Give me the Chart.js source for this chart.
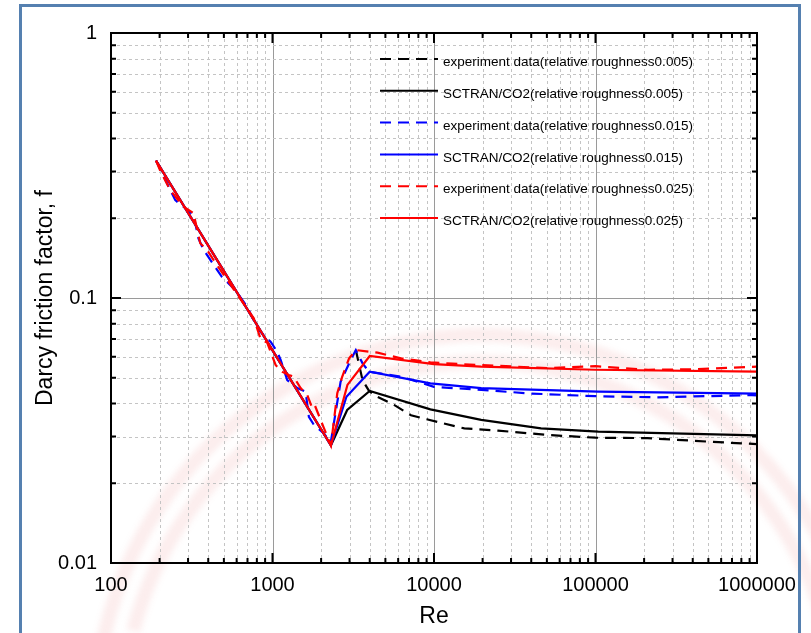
<!DOCTYPE html>
<html>
<head>
<meta charset="utf-8">
<script src="https://cdn.jsdelivr.net/npm/chart.js@4.4.1/dist/chart.umd.min.js"></script>
<style>
  html, body { margin: 0; padding: 0; background: #fff; }
  #wrap { position: relative; width: 811px; height: 633px; overflow: hidden; }
  #frame { position: absolute; left: 19px; top: 4px; width: 776px; height: 700px;
           border: 3px solid #5580b0; pointer-events: none; }
</style>
</head>
<body>
<div id="wrap">
  <canvas id="chart" width="811" height="633"></canvas>
  <div id="frame"></div>
</div>
<script>
"use strict";

// legend labels, in legend order
const seriesLabels = [
  'experiment data(relative roughness0.005)',
  'SCTRAN/CO2(relative roughness0.005)',
  'experiment data(relative roughness0.015)',
  'SCTRAN/CO2(relative roughness0.015)',
  'experiment data(relative roughness0.025)',
  'SCTRAN/CO2(relative roughness0.025)',
];

// roughness 0.005
const exp005Re = [3280, 3610, 3960, 4470, 5660, 7200, 9140, 15400, 24900, 51000, 100000, 210000, 500000, 1000000];
const exp005F  = [0.0636, 0.049, 0.0446, 0.0424, 0.0395, 0.0361, 0.0348, 0.0322, 0.0316, 0.0304, 0.0297, 0.0296, 0.0287, 0.0281];
const sct005Re = [190, 2300, 2900, 4000, 9500, 19600, 46000, 104000, 1000000];
const sct005F  = [0.33, 0.0278, 0.0378, 0.0446, 0.038, 0.0347, 0.0322, 0.0313, 0.0303];

// roughness 0.015
const exp015Re = [190, 250, 281, 324, 348, 374, 487, 589, 696, 822, 973, 1070, 1123, 1234, 1423, 1603, 1680, 1805, 2085, 2290,
                  2640, 3050, 3280, 3610, 3960, 6240, 10000, 19600, 40000, 100000, 240000, 930000, 1000000];
const exp015F  = [0.33, 0.234, 0.221, 0.206, 0.168, 0.152, 0.120, 0.107, 0.0927, 0.0757, 0.0684, 0.0627, 0.0584, 0.049, 0.0457, 0.0443, 0.0356, 0.0332, 0.0308, 0.0283,
                  0.0483, 0.0584, 0.0636, 0.0567, 0.0527, 0.0505, 0.0462, 0.0450, 0.0436, 0.0426, 0.0422, 0.0430, 0.0429];
const sct015Re = [190, 2300, 2870, 4000, 9500, 19600, 104000, 1000000];
const sct015F  = [0.33, 0.0278, 0.0424, 0.0527, 0.0476, 0.0457, 0.0443, 0.0436];

// roughness 0.025
const exp025Re = [190, 201, 232, 281, 324, 357, 393, 453, 535, 766, 847, 926, 1045, 1146, 1262, 1350, 1493, 1640, 1762, 1830, 2085, 2300,
                  2518, 2700, 2980, 3280, 4470, 6240, 9500, 13000, 19600, 51000, 100000, 212000, 400000, 1000000];
const exp025F  = [0.33, 0.304, 0.256, 0.221, 0.209, 0.161, 0.152, 0.133, 0.115, 0.0838, 0.0695, 0.068, 0.0559, 0.0527, 0.0512, 0.0505, 0.0457, 0.0431, 0.0384, 0.0393, 0.0322, 0.0278,
                  0.0437, 0.0504, 0.0592, 0.0636, 0.0622, 0.0592, 0.0572, 0.0565, 0.0558, 0.0544, 0.0553, 0.0536, 0.0538, 0.0551];
const sct025Re = [190, 2300, 2910, 4000, 10000, 19600, 100000, 1000000];
const sct025F  = [0.33, 0.0278, 0.047, 0.0604, 0.0563, 0.0551, 0.0536, 0.0527];

// axis decades and minor steps
const xDecades = [100, 1000, 10000, 100000, 1000000];
const yDecades = [0.01, 0.1, 1];
const minorSteps = [2, 3, 4, 5, 6, 7, 8, 9];

const FONT = "'Liberation Sans', Arial, sans-serif";
const DASH = [11, 7];

function tickList(decades) {
  const out = [];
  decades.forEach((d, i) => {
    out.push({ value: d, major: true });
    if (i < decades.length - 1) minorSteps.forEach(m => out.push({ value: d * m, major: false }));
  });
  return out;
}
const xTicks = tickList(xDecades);
const yTicks = tickList(yDecades);

function pts(xs, ys) {
  return xs.map((x, i) => ({ x: x, y: ys[i] }));
}

function line(label, xs, ys, color, dashed, order) {
  return {
    label: label,
    data: pts(xs, ys),
    borderColor: color,
    backgroundColor: color,
    borderWidth: 2.2,
    borderDash: dashed ? DASH : [],
    pointRadius: 0,
    tension: 0,
    fill: false,
    order: order,
  };
}

// faint seal watermark behind the plot
const watermark = {
  id: 'watermark',
  beforeDraw(chart) {
    const ctx = chart.ctx;
    ctx.save();
    ctx.fillStyle = '#fff';
    ctx.fillRect(0, 0, chart.width, chart.height);
    ctx.filter = 'blur(3px)';
    ctx.strokeStyle = 'rgba(232, 90, 90, 0.11)';
    ctx.lineWidth = 14;
    ctx.beginPath();
    ctx.arc(480, 720, 385, Math.PI * 1.05, Math.PI * 1.95);
    ctx.stroke();
    ctx.beginPath();
    ctx.arc(480, 720, 358, Math.PI * 1.08, Math.PI * 1.92);
    ctx.stroke();
    ctx.restore();
  }
};

// grid, inward ticks, frame and legend
const frame = {
  id: 'frame',
  beforeDatasetsDraw(chart) {
    const { ctx, chartArea: a, scales: { x, y } } = chart;
    ctx.save();
    ctx.lineWidth = 1;
    xTicks.forEach(t => {
      const px = Math.round(x.getPixelForValue(t.value)) + 0.5;
      ctx.strokeStyle = t.major ? '#9a9a9a' : '#c4c4c4';
      ctx.setLineDash(t.major ? [] : [3, 3]);
      ctx.beginPath(); ctx.moveTo(px, a.top); ctx.lineTo(px, a.bottom); ctx.stroke();
    });
    yTicks.forEach(t => {
      const py = Math.round(y.getPixelForValue(t.value)) + 0.5;
      ctx.strokeStyle = t.major ? '#9a9a9a' : '#c4c4c4';
      ctx.setLineDash(t.major ? [] : [3, 3]);
      ctx.beginPath(); ctx.moveTo(a.left, py); ctx.lineTo(a.right, py); ctx.stroke();
    });
    ctx.restore();
  },
  afterDatasetsDraw(chart) {
    const { ctx, chartArea: a, scales: { x, y } } = chart;
    ctx.save();
    ctx.strokeStyle = '#000';
    ctx.lineWidth = 2;
    ctx.setLineDash([]);
    ctx.strokeRect(a.left, a.top, a.right - a.left, a.bottom - a.top);
    xTicks.forEach(t => {
      const px = x.getPixelForValue(t.value);
      const len = t.major ? 10 : 5;
      ctx.beginPath();
      ctx.moveTo(px, a.bottom); ctx.lineTo(px, a.bottom - len);
      ctx.moveTo(px, a.top); ctx.lineTo(px, a.top + len);
      ctx.stroke();
    });
    yTicks.forEach(t => {
      const py = y.getPixelForValue(t.value);
      const len = t.major ? 10 : 5;
      ctx.beginPath();
      ctx.moveTo(a.left, py); ctx.lineTo(a.left + len, py);
      ctx.moveTo(a.right, py); ctx.lineTo(a.right - len, py);
      ctx.stroke();
    });

    // legend
    ctx.font = '13.5px ' + FONT;
    ctx.textBaseline = 'middle';
    ctx.fillStyle = '#000';
    chart.data.datasets.forEach((ds, i) => {
      const ly = 59 + i * 31.8;
      ctx.strokeStyle = ds.borderColor;
      ctx.lineWidth = 2;
      ctx.setLineDash(ds.borderDash);
      ctx.beginPath(); ctx.moveTo(380, ly); ctx.lineTo(438, ly); ctx.stroke();
      ctx.fillText(ds.label, 443, ly + 3.5);
    });
    ctx.restore();
  }
};

function isDecade(v) {
  const l = Math.log10(v);
  return Math.abs(l - Math.round(l)) < 1e-9;
}

new Chart(document.getElementById('chart'), {
  type: 'line',
  data: {
    datasets: [
      line(seriesLabels[0], exp005Re, exp005F, '#000000', true, 5),
      line(seriesLabels[1], sct005Re, sct005F, '#000000', false, 4),
      line(seriesLabels[2], exp015Re, exp015F, '#0000ff', true, 3),
      line(seriesLabels[3], sct015Re, sct015F, '#0000ff', false, 2),
      line(seriesLabels[4], exp025Re, exp025F, '#ff0000', true, 1),
      line(seriesLabels[5], sct025Re, sct025F, '#ff0000', false, 0),
    ],
  },
  options: {
    responsive: false,
    animation: false,
    layout: { padding: { left: 0, top: 33, right: 54, bottom: 0 } },
    plugins: { legend: { display: false }, tooltip: { enabled: false } },
    scales: {
      x: {
        type: 'logarithmic',
        min: 100,
        max: 1000000,
        afterBuildTicks: s => { s.ticks = xTicks.map(t => ({ value: t.value })); },
        afterFit: s => { s.height = 70; },
        grid: { display: false, drawTicks: false },
        border: { display: false },
        ticks: {
          autoSkip: false, maxRotation: 0, padding: 10, color: '#000',
          font: { size: 20, family: FONT },
          callback: v => isDecade(v) ? String(v) : '',
        },
        title: { display: true, text: 'Re', color: '#000', font: { size: 23, family: FONT }, padding: { top: 0, bottom: 3 } },
      },
      y: {
        type: 'logarithmic',
        min: 0.01,
        max: 1,
        afterBuildTicks: s => { s.ticks = yTicks.map(t => ({ value: t.value })); },
        afterFit: s => { s.width = 111; },
        grid: { display: false, drawTicks: false },
        border: { display: false },
        ticks: {
          autoSkip: false, padding: 14, color: '#000',
          font: { size: 20, family: FONT },
          callback: v => isDecade(v) ? String(v) : '',
        },
        title: { display: true, text: 'Darcy friction factor, f', color: '#000', font: { size: 23, family: FONT }, padding: { top: 32, bottom: 0 } },
      },
    },
  },
  plugins: [watermark, frame],
});
</script>
</body>
</html>
